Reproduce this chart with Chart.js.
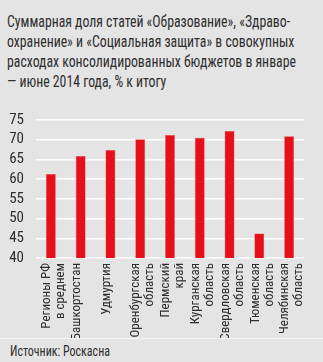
<!DOCTYPE html>
<html>
<head>
<meta charset="utf-8">
<script src="https://cdn.jsdelivr.net/npm/chart.js@4"></script>
<style>
  html, body { margin: 0; padding: 0; }
  body { width: 323px; height: 362px; background: #e4e4e4; position: relative; overflow: hidden; color: #2e2e2e; }
  .txt { font-family: "Roboto Condensed", "Liberation Sans Narrow", "DejaVu Sans Condensed", Roboto, sans-serif;
         transform-origin: 0 0; white-space: nowrap; }
  #title { position: absolute; left: 7px; top: 12px; font-size: 16px; line-height: 20px; }
  #wrap { position: absolute; left: 0; top: 99px; width: 323px; height: 239px; }
  #sep { position: absolute; left: 0; top: 338px; width: 323px; height: 1px; background: #f6f6f6; }
  #source { position: absolute; left: 10px; top: 342px; font-size: 15px; line-height: 18px; }
</style>
</head>
<body>
<div id="title" class="txt">Суммарная доля статей «Образование», «Здраво-<br>охранение» и «Социальная защита» в совокупных<br>расходах консолидированных бюджетов в январе<br>— июне 2014 года, % к итогу</div>
<div id="wrap"><canvas id="chart"></canvas></div>
<div id="sep"></div>
<div id="source" class="txt">Источник: Роскасна</div>
<script>
  // data
  const regions = [
    ['Регионы РФ', 'в среднем'],
    'Башкортостан',
    'Удмуртия',
    ['Оренбургская', 'область'],
    ['Пермский', 'край'],
    ['Курганская', 'область'],
    ['Свердловская', 'область'],
    ['Тюменская', 'область'],
    ['Челябинская', 'область']
  ];
  const shares = [61.3, 65.9, 67.4, 70.1, 71.2, 70.5, 72.2, 46.2, 70.9];
  const yMin = 40, yMax = 75, yStep = 5;

  const fontFamily = '"Roboto Condensed", "Liberation Sans Narrow", "DejaVu Sans Condensed", Roboto, sans-serif';

  // the original uses a condensed face; squeeze the html text to the same widths
  const probe = document.createElement('canvas').getContext('2d');
  function textWidth(str, size) {
    probe.font = size + 'px ' + fontFamily;
    return probe.measureText(str).width;
  }
  function squeeze(el, str, target, size) {
    const k = Math.min(1, target / textWidth(str, size));
    el.style.transform = 'scaleX(' + k.toFixed(3) + ')';
  }

  document.addEventListener('DOMContentLoaded', () => {
    squeeze(document.getElementById('title'), 'Суммарная доля статей «Образование», «Здраво-', 283, 16);
    squeeze(document.getElementById('source'), 'Источник: Роскасна', 100, 15);

    const ctx = document.getElementById('chart').getContext('2d');
    new Chart(ctx, {
      type: 'bar',
      data: {
        labels: regions,
        datasets: [{
          data: shares,
          backgroundColor: '#e5101a',
          borderColor: '#ee4a50',
          borderWidth: 0.5,
          barPercentage: 0.33,
          categoryPercentage: 1
        }]
      },
      options: {
        responsive: true,
        maintainAspectRatio: false,
        animation: false,
        layout: { padding: { top: 1, right: 16, left: 0, bottom: 0 } },
        plugins: { legend: { display: false }, tooltip: { enabled: false } },
        scales: {
          x: {
            grid: { display: false, drawTicks: false },
            border: { display: false },
            afterFit: s => { s.height = 80; },
            ticks: {
              minRotation: 90, maxRotation: 90, autoSkip: false,
              padding: 5, labelOffset: -4,
              color: '#2e2e2e',
              font: { family: fontFamily, size: 13, lineHeight: '14px' }
            }
          },
          y: {
            min: yMin, max: yMax,
            afterFit: s => { s.width = 36; },
            grid: { color: '#ffffff', lineWidth: 1.5, drawTicks: false },
            border: { display: false },
            ticks: {
              stepSize: yStep, autoSkip: false,
              padding: 12,
              color: '#2e2e2e',
              font: { family: fontFamily, size: 15 }
            }
          }
        }
      }
    });
  });
</script>
</body>
</html>
